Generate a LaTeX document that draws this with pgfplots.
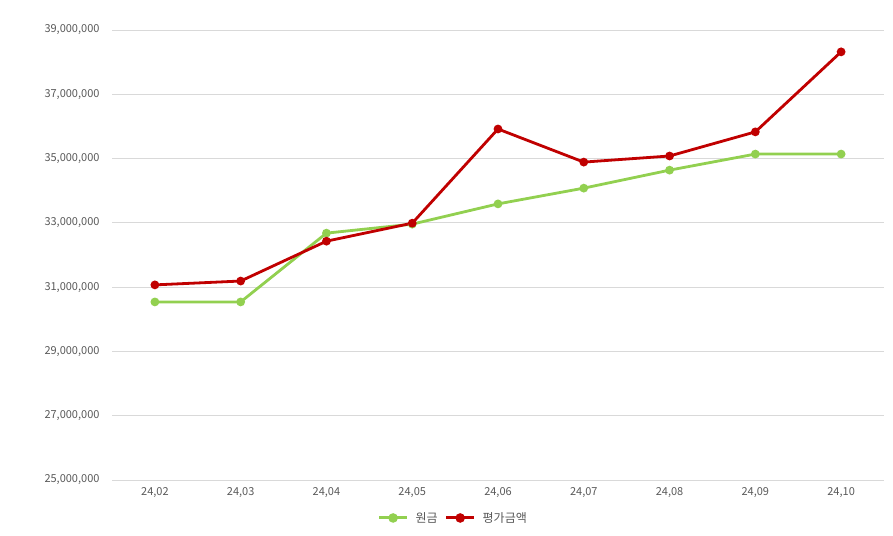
\documentclass[border=0pt]{standalone}
\usepackage{pgfplots}
\pgfplotsset{compat=1.18}
\usepackage{fontspec}
\setmainfont{Noto Sans CJK KR}
\definecolor{cgreen}{HTML}{92D050}
\definecolor{cred}{HTML}{C00000}
\definecolor{cgrid}{HTML}{D9D9D9}
\definecolor{ctext}{HTML}{595959}
\begin{document}
\begin{tikzpicture}
\useasboundingbox (0,0) rectangle (893pt,535pt);
\begin{axis}[
  at={(112pt,55pt)}, anchor=south west,
  scale only axis, width=772pt, height=450pt,
  xmin=-0.5, xmax=8.5, ymin=25000000, ymax=39000000,
  axis line style={draw=none},
  xtick={0,...,8},
  xticklabels={{24,02},{24,03},{24,04},{24,05},{24,06},{24,07},{24,08},{24,09},{24,10}},
  ytick={25000000,27000000,29000000,31000000,33000000,35000000,37000000,39000000},
  yticklabels={{25,000,000},{27,000,000},{29,000,000},{31,000,000},{33,000,000},{35,000,000},{37,000,000},{39,000,000}},
  scaled y ticks=false,
  major tick length=0pt,
  ymajorgrids, grid style={cgrid, line width=0.8pt},
  tick label style={font=\fontsize{11}{13}\selectfont, text=ctext},
  yticklabel style={xshift=-9pt},
  xticklabel style={yshift=-4pt},
  legend style={at={(0.442,-0.0844)}, anchor=center, draw=none, legend columns=-1,
    font=\fontsize{12}{14}\selectfont, text=ctext, column sep=5pt},
  legend image code/.code={\draw[#1, line width=3pt, mark=none] (0pt,0pt) -- (28pt,0pt); \fill[#1] (14pt,0pt) circle (3.3pt);},
  clip=false,
]
\addplot[cgreen, line width=2.8pt, mark=*, mark size=2.9pt, mark options={solid, fill=cgreen, draw=cgreen}] coordinates {
(0,30540000) (1,30540000) (2,32680000) (3,32960000) (4,33590000) (5,34080000) (6,34640000) (7,35140000) (8,35140000)};
\addlegendentry{원금}
\addplot[cred, line width=2.8pt, mark=*, mark size=2.9pt, mark options={solid, fill=cred, draw=cred}] coordinates {
(0,31070000) (1,31190000) (2,32430000) (3,32990000) (4,35920000) (5,34890000) (6,35080000) (7,35830000) (8,38320000)};
\addlegendentry{평가금액}
\end{axis}
\end{tikzpicture}
\end{document}
